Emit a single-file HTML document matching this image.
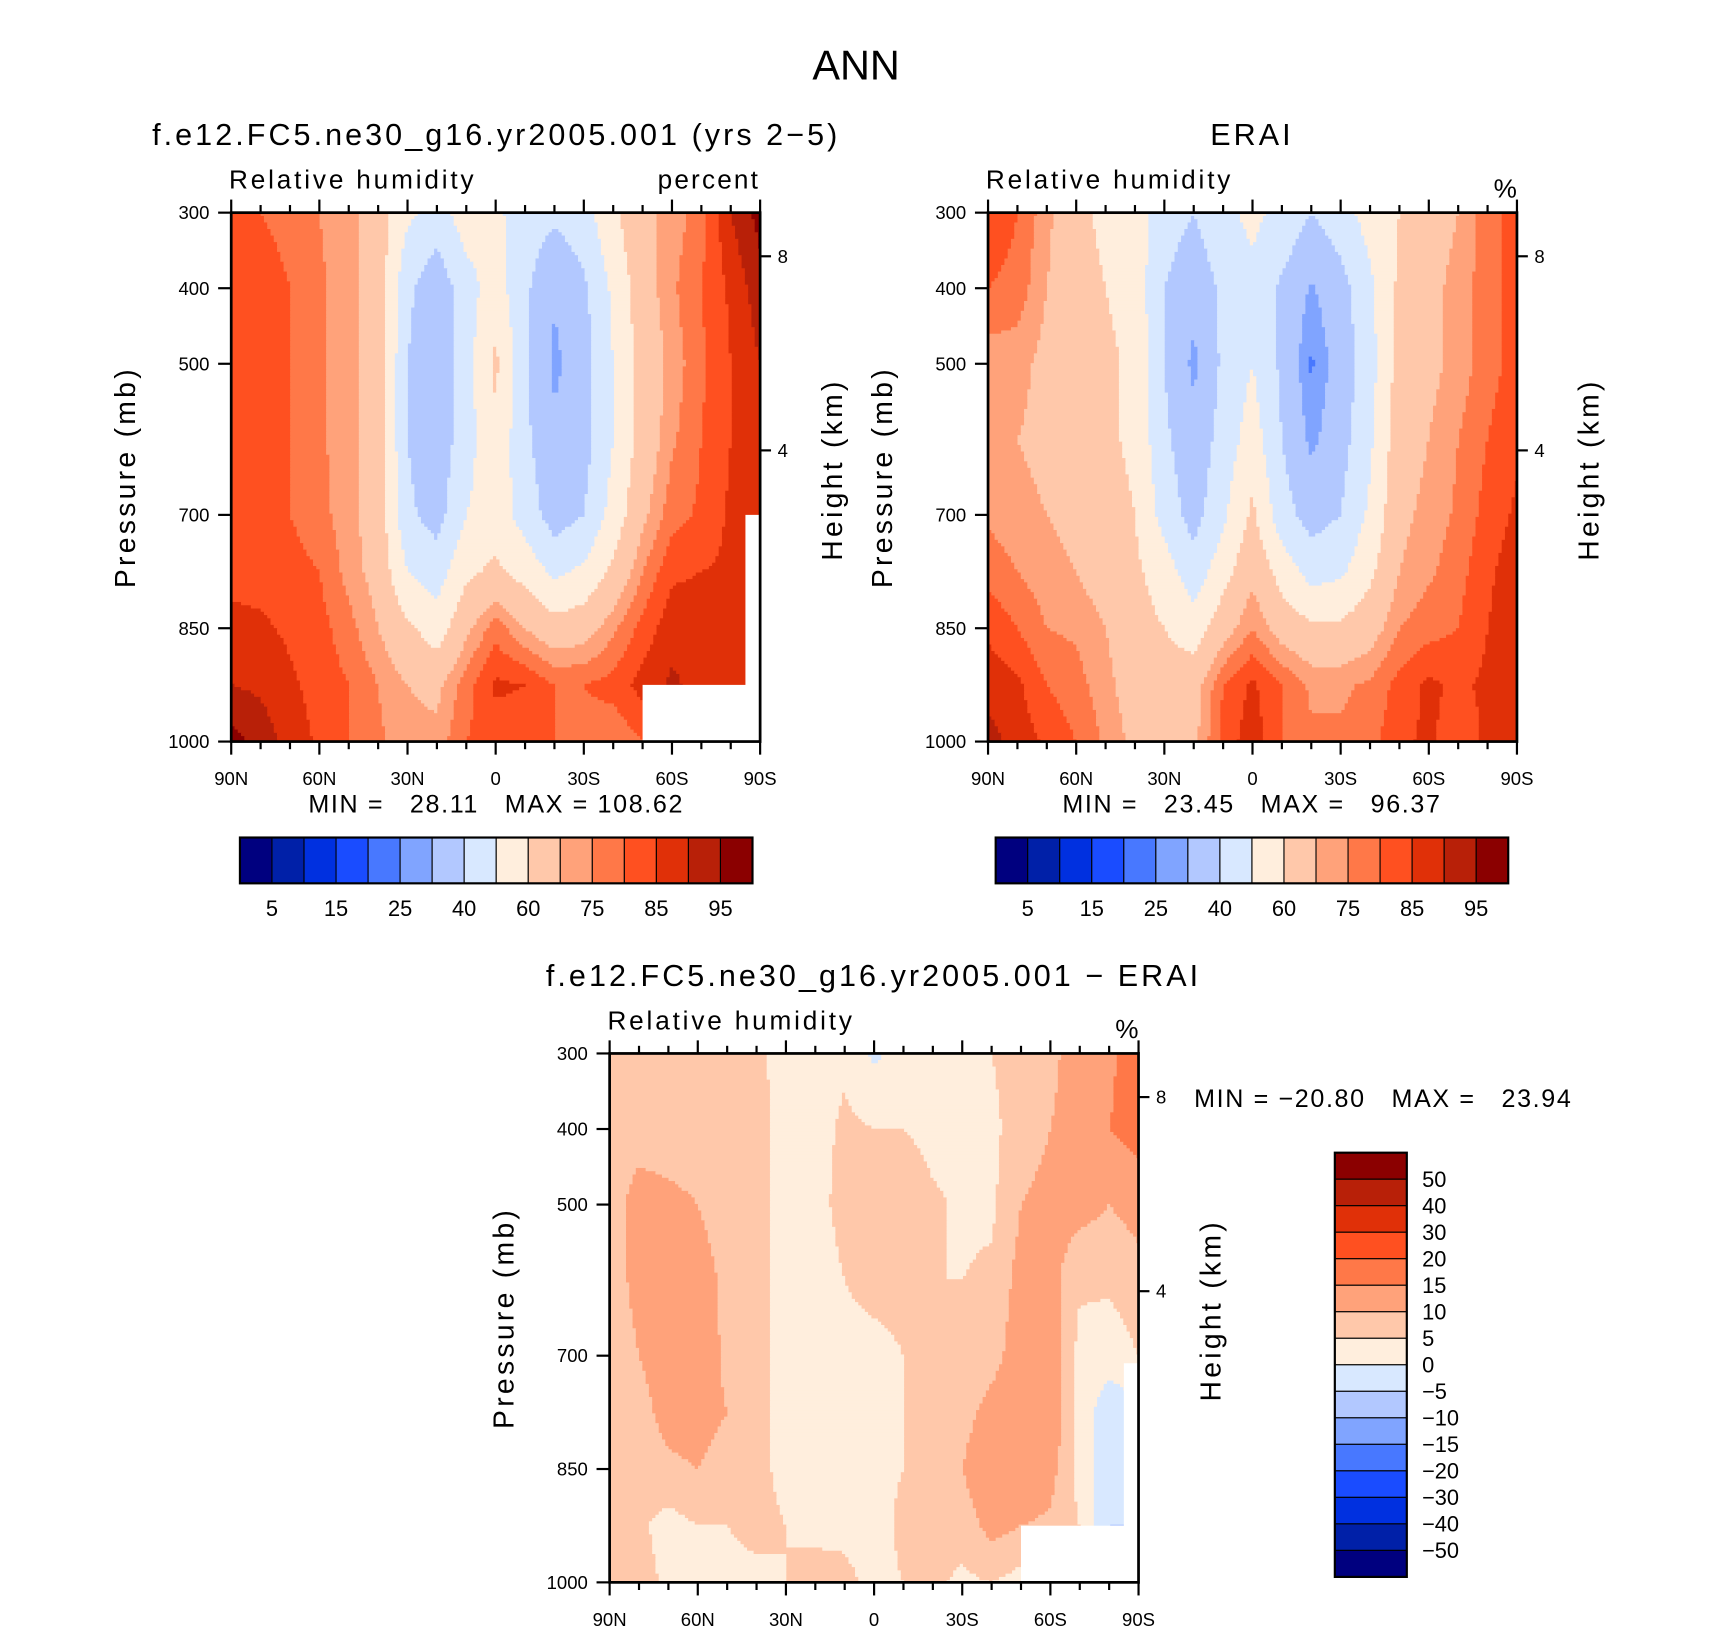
<!DOCTYPE html>
<html><head><meta charset="utf-8"><style>
html,body{margin:0;padding:0;background:#fff;}
svg{display:block;font-family:"Liberation Sans",sans-serif;}
</style></head><body>
<svg id="root" width="1710" height="1631" viewBox="0 0 1568 1495.6" xmlns="http://www.w3.org/2000/svg">
<text x="785" y="73" font-size="38" text-anchor="middle">ANN</text>
<g id="pA"></g>
<g id="pB"></g>
<g id="pC"></g>
</svg>
<script>
const lats=[90,80,70,60,50,40,30,20,10,0,-10,-20,-30,-40,-50,-60,-70,-80,-90];
const pressures=[300,400,500,600,700,775,850,925,1000];
const rhLevels=[5,10,15,20,25,30,40,50,60,70,75,80,85,90,95];
const rhLabels=["5","15","25","40","60","75","85","95"];
const diffLevels=[-50,-40,-30,-20,-15,-10,-5,0,5,10,15,20,30,40,50];
const diffLabels=["50","40","30","20","15","10","5","0","\u22125","\u221210","\u221215","\u221220","\u221230","\u221240","\u221250"];
const colors=["#00007f","#0020a8","#0030e0","#1a4cff","#4878ff","#80a4ff","#b2c8ff","#d8e8ff","#ffeedd","#ffc8aa","#ffa27a","#ff7848","#ff5020","#e03008","#b82008","#8b0000"];
const modelRH=[
[82,83,83,83,83,84,86,90,97],[80,83,83,82,82,83,86,89,93],[78,80,80,80,80,82,84,86,88],
[75,76,76,76,77,80,82,83,84],[72,72,72,72,72,73,77,80,80],[65,66,66,66,66,67,70,75,76],
[52,42,40,40,42,50,62,70,72],[46,33,33,33,36,45,55,68,72],[55,46,46,46,50,58,68,78,80],
[52,55,62,58,55,62,78,86,82],[45,42,42,42,46,56,70,85,82],[42,31,28,32,35,48,64,80,80],
[46,38,36,36,40,52,66,80,78],[58,52,50,50,54,62,74,82,76],[68,66,64,64,68,75,82,87,80],
[72,74,72,74,78,84,88,91,88],[78,80,79,80,81,85,88,88,85],[90,86,85,85,86,86,86,86,86],
[97,93,90,88,88,88,88,88,88]];
const eraiRH=[
[85,80,72,72,74,78,84,88,92],[80,78,72,70,72,75,80,86,88],[72,70,68,68,70,72,75,80,84],
[62,64,65,66,68,70,74,77,80],[58,60,62,62,64,66,70,72,74],[55,56,58,58,60,62,64,66,68],
[45,40,40,42,46,55,60,65,66],[40,33,28,33,36,44,55,66,68],[48,42,42,44,48,56,66,80,82],
[52,48,50,55,62,68,75,86,88],[48,38,38,40,44,56,66,80,80],[40,29,24,28,36,46,62,74,76],
[46,36,34,36,40,48,62,74,76],[54,48,46,48,52,58,66,76,78],[60,62,64,66,68,70,75,82,84],
[66,68,68,70,72,74,78,86,86],[70,72,72,75,76,78,80,84,82],[78,78,78,80,82,84,85,86,86],
[82,82,82,84,86,88,88,88,90]];
const diffRH=[
[5,7,8,7,6,6,7,6,6],[6,8,12,12,10,8,7,6,7],[7,8,11,13,13,12,9,3,4],
[7,8,10,12,13,12,10,5,4],[6,8,8,9,9,10,8,5,4],[6,7,7,7,7,7,6,6,4],
[3,3,3,3,2,3,4,5,5],[3,3,3,2,2,3,2,3,8],[4,6,7,5,4,4,4,4,6],
[-1,5,8,6,4,4,4,3,4],[2,5,10,6,5,5,5,6,5],[3,3,6,5,5,6,6,7,6],
[3,3,4,5,6,8,10,7,4],[5,4,4,6,8,12,15,12,5],[7,7,10,12,13,15,15,10,3],
[9,10,12,12,15,15,12,9,5],[12,12,12,6,3,3,3,5,6],[14,15,10,6,2,-3,-3,-5,-6],
[18,17,12,8,5,-2,-3,-5,-5]];
const xTicks=["90N","60N","30N","0","30S","60S","90S"];
const pTicks=[300,400,500,700,850,1000];
const NS="http://www.w3.org/2000/svg";
function mk(tag,attrs,parent){const e=document.createElementNS(NS,tag);for(const k in attrs)e.setAttribute(k,attrs[k]);parent.appendChild(e);return e;}
function colorIdx(v,lev){let i=0;while(i<lev.length&&v>=lev[i])i++;return i;}
function sample(data,lat,p){
  let fi=(90-lat)/10;fi=Math.max(0,Math.min(17.9999,fi));const i=Math.floor(fi),a=fi-i;
  let j=0;while(j<pressures.length-2&&p>pressures[j+1])j++;
  const b=Math.max(0,Math.min(1,(p-pressures[j])/(pressures[j+1]-pressures[j])));
  return (1-a)*(1-b)*data[i][j]+a*(1-b)*data[i+1][j]+(1-a)*b*data[i][j+1]+a*b*data[i+1][j+1];
}
function panel(g,x0,y0,W,H,data,lev,opts){
  const xs=lat=>x0+(90-lat)/180*W, ys=p=>y0+(p-300)/700*H;
  const cell=3;const fill=mk('g',{},g);
  
  
  for(let py=0;py<H;py+=cell){
    const p=300+Math.min(py+cell/2,H)/H*700;let start=0,cur=-1;
    for(let px=0;px<W+cell;px+=cell){
      let c=-2;
      if(px<W){const lat=90-Math.min(px+cell/2,W)/W*180;c=colorIdx(sample(data,lat,p),lev);}
      if(c!==cur){
        if(cur>=0){const r=mk('rect',{x:x0+start,y:y0+py,width:Math.min(px,W)-start+0.6,height:Math.min(cell,H-py)+0.6,fill:colors[cur]},fill);
          
          }
        cur=c;start=px;
      }
    }
  }
  (opts.blanks||[]).forEach(b=>{const r=mk('rect',{x:xs(b[0]),y:ys(b[2]),width:xs(b[1])-xs(b[0]),height:ys(b[3])-ys(b[2]),fill:'#fff'},g);
    
    });
  const fr=mk('rect',{x:x0,y:y0,width:W,height:H,fill:'none',stroke:'#000','stroke-width':2.5},g);
  
  
  for(let lat=90;lat>=-90;lat-=10){const maj=lat%30===0,L=maj?12:7;const x=xs(lat);
    mk('line',{x1:x,x2:x,y1:y0,y2:y0-L,stroke:'#000','stroke-width':2},g);
    mk('line',{x1:x,x2:x,y1:y0+H,y2:y0+H+L,stroke:'#000','stroke-width':2},g);}
  xTicks.forEach((t,k)=>{const tx=mk('text',{x:xs(90-30*k),y:y0+H+40,'font-size':17,'text-anchor':'middle'},g);tx.textContent=t;
    
    });
  pTicks.forEach(p=>{const y=ys(p);mk('line',{x1:x0,x2:x0-12,y1:y,y2:y,stroke:'#000','stroke-width':2},g);
    const tx=mk('text',{x:x0-20,y:y+6,'font-size':17,'text-anchor':'end'},g);tx.textContent=p;
    
    });
  [[8,40],[4,218]].forEach(h=>{const y=y0+h[1];mk('line',{x1:x0+W,x2:x0+W+10,y1:y,y2:y,stroke:'#000','stroke-width':2},g);
    const tx=mk('text',{x:x0+W+16,y:y+6,'font-size':17},g);tx.textContent=h[0];
    
    });
  let t=mk('text',{x:x0-88,y:y0+H/2,'font-size':26,'text-anchor':'middle','letter-spacing':3,transform:`rotate(-90 ${x0-88} ${y0+H/2})`},g);
  t.textContent='Pressure (mb)';
  
  
  t=mk('text',{x:x0+W+75,y:y0+H/2-7,'font-size':26,'text-anchor':'middle','letter-spacing':3,transform:`rotate(-90 ${x0+W+75} ${y0+H/2-7})`},g);
  t.textContent='Height (km)';
  
  
  t=mk('text',{x:x0-2,y:y0-22,'font-size':24,'letter-spacing':2.6},g);t.textContent='Relative humidity';
  
  
  t=mk('text',{x:x0+W,y:y0-(opts.unit==='%'?14:22),'font-size':24,'text-anchor':'end','letter-spacing':opts.unit==='%'?0:2},g);t.textContent=opts.unit;
  
  
  t=mk('text',{x:opts.tx,y:y0-62,'font-size':28,'text-anchor':'middle','letter-spacing':2.8},g);t.textContent=opts.title;
  
  
  t=mk('text',{x:opts.mx,y:opts.my,'font-size':23,'text-anchor':opts.manchor,'letter-spacing':1.5},g);t.textContent=opts.minmax;
  t.style.whiteSpace='pre';
  
  
}
function hbar(g,x0,y0,w,h){
  const bw=w/16;const cb=mk('g',{},g);
  
  
  colors.forEach((c,i)=>{const r=mk('rect',{x:x0+i*bw,y:y0,width:bw,height:h,fill:c,stroke:'#000','stroke-width':1},cb);
    
    });
  mk('rect',{x:x0,y:y0,width:w,height:h,fill:'none',stroke:'#000','stroke-width':2},cb);
  rhLabels.forEach((l,k)=>{const t=mk('text',{x:x0+(1+2*k)*bw,y:y0+h+30,'font-size':20,'text-anchor':'middle'},cb);t.textContent=l;
    
    });
}
function vbar(g,x0,y0,w,h){
  const bh=h/16;const cb=mk('g',{},g);
  
  
  colors.slice().reverse().forEach((c,i)=>{const r=mk('rect',{x:x0,y:y0+i*bh,width:w,height:bh,fill:c,stroke:'#000','stroke-width':1},cb);
    
    });
  mk('rect',{x:x0,y:y0,width:w,height:h,fill:'none',stroke:'#000','stroke-width':2},cb);
  diffLabels.forEach((l,k)=>{const t=mk('text',{x:x0+w+14,y:y0+(k+1)*bh+7,'font-size':20},cb);t.textContent=l;
    
    });
}
const gA=document.getElementById('pA'),gB=document.getElementById('pB'),gC=document.getElementById('pC');
panel(gA,212,195,485,485,modelRH,rhLevels,{unit:'percent',title:'f.e12.FC5.ne30_g16.yr2005.001 (yrs 2\u22125)',tx:455,
  minmax:'MIN =   28.11   MAX = 108.62',mx:455,my:745,manchor:'middle',
  blanks:[[-50,-90.1,925,1000.5],[-85,-90.1,700,1000.5]]});
hbar(gA,220,768,470,42);
panel(gB,906,195,485,485,eraiRH,rhLevels,{unit:'%',title:'ERAI',tx:1148,
  minmax:'MIN =   23.45   MAX =   96.37',mx:1148,my:745,manchor:'middle',blanks:[]});
hbar(gB,913,768,470,42);
panel(gC,559,966,485,485,diffRH,diffLevels,{unit:'%',title:'f.e12.FC5.ne30_g16.yr2005.001 \u2212 ERAI',tx:801,
  minmax:'MIN = \u221220.80   MAX =   23.94',mx:1095,my:1015,manchor:'start',
  blanks:[[-50,-90.1,925,1000.5],[-85,-90.1,710,1000.5]]});
vbar(gC,1224,1057,66,389);
</script>
</body></html>
